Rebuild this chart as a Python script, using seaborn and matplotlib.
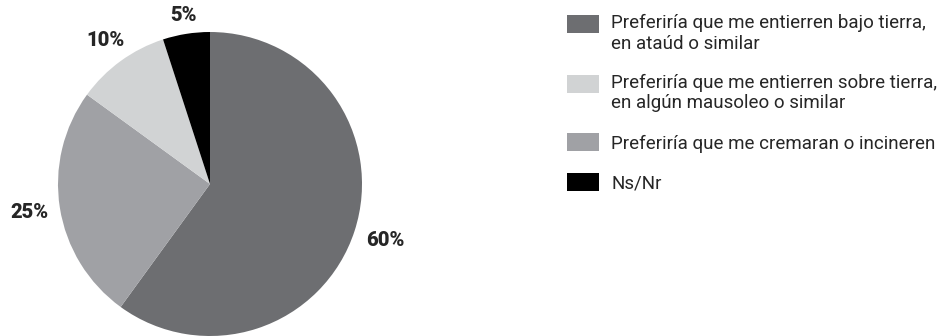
import matplotlib
matplotlib.use("Agg")
import matplotlib.pyplot as plt
from matplotlib.patches import Patch, Rectangle
from matplotlib.legend_handler import HandlerPatch
import numpy as np
import seaborn as sns

# datos en el orden de la leyenda
categorias = [
    "Preferiría que me entierren bajo tierra,\nen ataúd o similar",
    "Preferiría que me entierren sobre tierra,\nen algún mausoleo o similar",
    "Preferiría que me cremaran o incineren",
    "Ns/Nr",
]
valores = [60, 10, 25, 5]
colores = ["#6d6e71", "#d1d3d4", "#a0a1a5", "#000000"]
# orden de las porciones en el pastel (sentido horario desde arriba)
orden_pie = [0, 2, 1, 3]

sns.set_theme(style="white")
plt.rcParams["font.family"] = ["Roboto", "DejaVu Sans"]

fig = plt.figure(figsize=(9.43, 3.36), dpi=100)
ax = fig.add_axes([58 / 943, 0 / 336, 304 / 943, 304 / 336])

vals = [valores[i] for i in orden_pie]
cols = [colores[i] for i in orden_pie]
wedges, _ = ax.pie(vals, colors=cols, startangle=90, counterclock=False,
                   wedgeprops=dict(linewidth=0))
ax.set_xlim(-1, 1)
ax.set_ylim(-1, 1)
ax.set_aspect("equal")

# etiquetas de porcentaje fuera del pastel
dist = [1.21, 1.2, 1.165, 1.12]
for w, v, d in zip(wedges, vals, dist):
    ang = np.deg2rad((w.theta1 + w.theta2) / 2)
    ax.text(d * np.cos(ang), d * np.sin(ang), f"{v}%", ha="center", va="center",
            fontsize=14.5, fontweight="heavy", clip_on=False)


# cuadros de la leyenda alineados con la primera linea del texto
def cuadro(legend, orig_handle, xdescent, ydescent, width, height, fontsize):
    n = orig_handle.get_label().count("\n")
    desp = n * 0.5 * fontsize * 1.05
    return Rectangle((-xdescent, -ydescent + desp), width, height)


handles = [Patch(facecolor=c, edgecolor="none", label=t) for c, t in zip(colores, categorias)]
fig.legend(handles, categorias, loc="upper left", bbox_to_anchor=(567 / 943, 1 - 14 / 336),
           frameon=False, fontsize=13.5, handlelength=1.71, handleheight=1.12,
           handletextpad=0.64, labelspacing=1.1, borderpad=0, borderaxespad=0,
           handler_map={Patch: HandlerPatch(patch_func=cuadro)})

fig.savefig("out.png", dpi=100)
